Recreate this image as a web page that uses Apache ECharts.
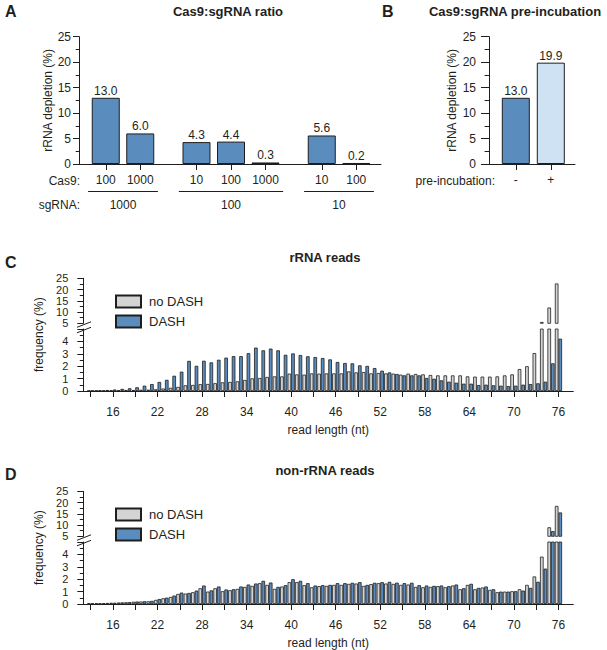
<!DOCTYPE html>
<html><head><meta charset="utf-8">
<script src="https://cdn.jsdelivr.net/npm/echarts@6/dist/echarts.min.js"></script>
<style>html,body{margin:0;padding:0;background:#fff}#c{width:607px;height:650px}</style>
</head><body><div id="c"></div>
<script>
// ---------- DATA ----------
// Panel A: Cas9:sgRNA ratio
const aCas9Group1 = ['100', '1000'];
const aValuesGroup1 = [13.0, 6.0];
const aCas9Group2 = ['10', '100', '1000'];
const aValuesGroup2 = [4.3, 4.4, 0.3];
const aCas9Group3 = ['10', '100'];
const aValuesGroup3 = [5.6, 0.2];
const aSgRNA = ['1000', '100', '10'];
// Panel B: pre-incubation
const bCategories = ['-', '+'];
const bValues = [13.0, 19.9];
// Panels C / D: read length distributions
const readLengths = [13,14,15,16,17,18,19,20,21,22,23,24,25,26,27,28,29,30,31,32,33,34,35,36,37,38,39,40,41,42,43,44,45,46,47,48,49,50,51,52,53,54,55,56,57,58,59,60,61,62,63,64,65,66,67,68,69,70,71,72,73,74,75,76];
const axisLengths = [12].concat(readLengths, [77, 78]);
const xTickLengths = [13,16,19,22,25,28,31,34,37,40,43,46,49,52,55,58,61,64,67,70,73,76];
const xLabelLengths = [16,22,28,34,40,46,52,58,64,70,76];
const rrnaNoDash = [0.03,0.04,0.05,0.06,0.07,0.08,0.08,0.1,0.11,0.14,0.2,0.26,0.33,0.46,0.49,0.55,0.57,0.63,0.7,0.73,0.78,0.89,1.02,1.05,1.13,1.18,1.18,1.4,1.34,1.32,1.42,1.4,1.42,1.42,1.42,1.58,1.5,1.53,1.42,1.45,1.42,1.4,1.32,1.4,1.37,1.34,1.29,1.26,1.26,1.26,1.26,1.18,1.16,1.16,1.16,1.18,1.26,1.34,1.77,2.0,3.06,5.6,12.0,22.7];
const rrnaDash = [0.04,0.06,0.08,0.12,0.17,0.22,0.3,0.43,0.56,0.73,0.9,1.23,1.56,2.43,2.03,2.44,2.31,2.52,2.69,2.81,2.81,3.05,3.5,3.28,3.42,3.28,2.92,3.03,2.9,2.8,2.74,2.66,2.55,2.34,2.26,2.23,2.07,2.02,1.85,1.64,1.5,1.37,1.26,1.26,1.26,1.05,0.99,0.86,0.75,0.67,0.59,0.59,0.48,0.51,0.46,0.43,0.4,0.43,0.51,0.56,0.62,0.75,2.23,4.22];
const nonrrnaNoDash = [0.05,0.06,0.07,0.1,0.12,0.14,0.18,0.2,0.22,0.33,0.46,0.57,0.81,0.84,0.95,1.27,1.0,1.27,1.03,1.11,1.22,1.38,1.46,1.68,1.54,1.22,1.41,1.76,1.76,1.52,1.35,1.44,1.46,1.54,1.54,1.62,1.65,1.46,1.6,1.68,1.65,1.62,1.54,1.57,1.38,1.35,1.38,1.44,1.35,1.49,1.19,1.54,1.19,1.33,1.14,0.95,1.0,1.03,1.19,1.54,2.22,3.82,9.0,18.5];
const nonrrnaDash = [0.05,0.06,0.08,0.1,0.13,0.15,0.2,0.22,0.25,0.4,0.51,0.68,0.92,0.89,1.08,1.49,1.1,1.41,1.17,1.19,1.41,1.57,1.65,1.87,1.73,1.38,1.52,2.0,1.87,1.68,1.49,1.52,1.54,1.68,1.68,1.71,1.76,1.54,1.71,1.76,1.79,1.72,1.68,1.71,1.52,1.49,1.46,1.49,1.44,1.57,1.27,1.63,1.3,1.41,1.19,1.0,1.0,1.03,1.08,1.3,1.79,2.85,7.3,15.6];

// ---------- STYLE ----------
const FONT = '"Liberation Sans", Arial, Helvetica, sans-serif';
const TXT = '#231f20';
const EDGE = '#1e1e1e';
const BLUE = '#5a8dbe';
const LIGHT_BLUE = '#cfe2f4';
const GRAY = '#d4d4d4';

const chart = echarts.init(document.getElementById('c'), null, {renderer: 'svg', width: 607, height: 650});

function grid(left, top, width, height) {
  return {left, top, width, height, containLabel: false, outerBoundsMode: 'none'};
}
const lineStyle = {color: EDGE, width: 1};
const txt = (size, extra) => Object.assign({color: TXT, fontFamily: FONT, fontSize: size}, extra || {});

const grids = [
  grid(79, 36.7, 302, 127.3),     // 0 frame A
  grid(88.5, 36.7, 69, 127.3),    // 1 A group 1
  grid(179.25, 36.7, 103.5, 127.3),// 2 A group 2
  grid(304.5, 36.7, 69, 127.3),   // 3 A group 3
  grid(489, 36.7, 86, 127.3),     // 4 frame B
  grid(498.3, 36.7, 70, 127.3),   // 5 B bars
  grid(83.3, 278.3, 490, 45),     // 6 C upper
  grid(83.3, 329, 490, 62),       // 7 C lower
  grid(83.3, 278.3, 490, 112.7),  // 8 C name frame
  grid(83.3, 491.3, 490, 45),     // 9 D upper
  grid(83.3, 542, 490, 62),       // 10 D lower
  grid(83.3, 491.3, 490, 112.7)   // 11 D name frame
];

function frameX(gi) {
  return {type: 'value', gridIndex: gi, min: 0, max: 1, axisLine: {show: true, lineStyle},
    axisTick: {show: false}, axisLabel: {show: false}, splitLine: {show: false}};
}
function groupX(gi, cats) {
  return {type: 'category', gridIndex: gi, data: cats, axisLine: {show: false},
    axisTick: {show: true, alignWithLabel: true, length: 6, lineStyle, interval: 0},
    axisLabel: txt(12, {margin: 10, interval: 0, hideOverlap: false}), splitLine: {show: false}};
}
function sgX(gi, label) {
  return {type: 'category', gridIndex: gi, data: [label], position: 'bottom', offset: 27,
    axisLine: {show: true, lineStyle}, axisTick: {show: false},
    axisLabel: txt(12, {margin: 8, interval: 0}), splitLine: {show: false}};
}
const tickSet = new Set(xTickLengths.map(String));
const labelSet = new Set(xLabelLengths.map(String));
function lenX(gi, visible) {
  return {type: 'category', gridIndex: gi, data: axisLengths.map(String), boundaryGap: false, show: visible,
    axisLine: {show: true, lineStyle},
    axisTick: {show: true, length: 6, lineStyle, interval: (i, v) => tickSet.has(String(v))},
    axisLabel: txt(12, {margin: 15, interval: (i, v) => labelSet.has(String(v))}),
    splitLine: {show: false},
    name: 'read length (nt)', nameLocation: 'middle', nameGap: 33, nameTextStyle: txt(12), nameMoveOverlap: false};
}
function hiddenX(gi) {
  return {type: 'category', gridIndex: gi, data: axisLengths.map(String), boundaryGap: false, show: false};
}
const xAxes = [
  frameX(0), groupX(1, aCas9Group1), sgX(1, aSgRNA[0]), groupX(2, aCas9Group2), sgX(2, aSgRNA[1]),
  groupX(3, aCas9Group3), sgX(3, aSgRNA[2]),
  frameX(4), groupX(5, bCategories),
  hiddenX(6), lenX(7, true), {type: 'value', gridIndex: 8, show: false},
  hiddenX(9), lenX(10, true), {type: 'value', gridIndex: 11, show: false}
];

function depletionY(gi, gap, tickLen, margin) {
  return {type: 'value', gridIndex: gi, min: 0, max: 25, interval: 5,
    axisLine: {show: true, lineStyle}, splitLine: {show: false},
    axisTick: {show: true, length: tickLen, lineStyle},
    minorTick: {show: true, splitNumber: 2, length: tickLen * 0.55, lineStyle},
    axisLabel: txt(12, {margin}),
    name: 'rRNA depletion (%)', nameLocation: 'middle', nameGap: gap, nameTextStyle: txt(12), nameMoveOverlap: false};
}
function hiddenY(gi, min, max) { return {type: 'value', gridIndex: gi, min, max, show: false, splitLine: {show: false}}; }
function freqUpperY(gi) {
  return {type: 'value', gridIndex: gi, min: 5, max: 25, interval: 5,
    axisLine: {show: true, lineStyle}, splitLine: {show: false},
    axisTick: {show: true, length: 6, lineStyle},
    minorTick: {show: true, splitNumber: 2, length: 3.5, lineStyle},
    axisLabel: txt(11, {margin: 15})};
}
function freqLowerY(gi) {
  return {type: 'value', gridIndex: gi, min: 0, max: 5, interval: 1,
    axisLine: {show: true, lineStyle}, splitLine: {show: false},
    axisTick: {show: true, length: 6, lineStyle},
    minorTick: {show: true, splitNumber: 2, length: 3.5, lineStyle},
    axisLabel: txt(11, {margin: 15, formatter: v => (v >= 5 ? '' : String(v))})};
}
function nameY(gi) {
  return {type: 'value', gridIndex: gi, min: 0, max: 1, axisLine: {show: false}, axisTick: {show: false},
    axisLabel: {show: false}, splitLine: {show: false},
    name: 'frequency (%)', nameLocation: 'middle', nameGap: 38, nameTextStyle: txt(12), nameMoveOverlap: false};
}
const yAxes = [
  depletionY(0, 25, 6, 8), hiddenY(1, 0, 25), hiddenY(2, 0, 25), hiddenY(3, 0, 25),
  depletionY(4, 31, 8, 13), hiddenY(5, 0, 25),
  freqUpperY(6), freqLowerY(7), nameY(8),
  freqUpperY(9), freqLowerY(10), nameY(11)
];

function aSeries(xi, yi, values) {
  return {type: 'bar', xAxisIndex: xi, yAxisIndex: yi, data: values, barWidth: 28,
    itemStyle: {color: BLUE, borderColor: EDGE, borderWidth: 1},
    label: {show: true, position: 'top', distance: 1, formatter: p => p.value.toFixed(1), color: TXT, fontFamily: FONT, fontSize: 12},
    silent: true};
}
function pad(values) { return [null].concat(values, [null, null]); }
function lenSeries(name, values, xi, yi, color) {
  return {type: 'bar', name, xAxisIndex: xi, yAxisIndex: yi, data: pad(values), barWidth: 3.6, barGap: '0%',
    clip: true, itemStyle: {color, borderColor: EDGE, borderWidth: 0.8}, silent: true};
}
const bColors = [BLUE, LIGHT_BLUE];
const series = [
  aSeries(1, 1, aValuesGroup1), aSeries(3, 2, aValuesGroup2), aSeries(5, 3, aValuesGroup3),
  aSeries(8, 5, bValues.map((v, i) => ({value: v, itemStyle: {color: bColors[i]}}))),
  lenSeries('no DASH', rrnaNoDash, 9, 6, GRAY), lenSeries('DASH', rrnaDash, 9, 6, BLUE),
  lenSeries('no DASH', rrnaNoDash, 10, 7, GRAY), lenSeries('DASH', rrnaDash, 10, 7, BLUE),
  lenSeries('no DASH', nonrrnaNoDash, 12, 9, GRAY), lenSeries('DASH', nonrrnaDash, 12, 9, BLUE),
  lenSeries('no DASH', nonrrnaNoDash, 13, 10, GRAY), lenSeries('DASH', nonrrnaDash, 13, 10, BLUE)
];

function legend(top) {
  return {left: 110, top, orient: 'vertical', itemWidth: 25, itemHeight: 12, itemGap: 6, icon: 'rect',
    selectedMode: false, data: ['no DASH', 'DASH'], textStyle: txt(13, {padding: [0, 0, 0, 3]})};
}

function gtext(x, y, text, size, bold, align) {
  return {type: 'text', x, y, silent: true,
    style: {text, fill: TXT, font: (bold ? 'bold ' : '') + size + 'px ' + FONT, textAlign: align || 'left', textVerticalAlign: 'middle'}};
}
function breakMarks(y0) {
  return [
    {type: 'line', silent: true, shape: {x1: 77, y1: y0 + 4, x2: 91, y2: y0 - 1.5}, style: {stroke: EDGE, lineWidth: 1}},
    {type: 'line', silent: true, shape: {x1: 77, y1: y0 + 9.5, x2: 91, y2: y0 + 4}, style: {stroke: EDGE, lineWidth: 1}}
  ];
}
const graphics = [
  gtext(5, 11, 'A', 16, true), gtext(228, 11, 'Cas9:sgRNA ratio', 13, true, 'center'),
  gtext(382, 11, 'B', 16, true), gtext(515, 11, 'Cas9:sgRNA pre-incubation', 13, true, 'center'),
  gtext(80, 181, 'Cas9:', 12, false, 'right'), gtext(80, 205, 'sgRNA:', 12, false, 'right'),
  gtext(495, 181, 'pre-incubation:', 12, false, 'right'),
  gtext(5, 262, 'C', 16, true), gtext(325, 257, 'rRNA reads', 13, true, 'center'),
  gtext(5, 474, 'D', 16, true), gtext(325, 470, 'non-rRNA reads', 13, true, 'center')
].concat(breakMarks(323.3), breakMarks(536.3));

chart.setOption({
  animation: false,
  backgroundColor: '#ffffff',
  textStyle: {fontFamily: FONT, color: TXT},
  grid: grids,
  xAxis: xAxes,
  yAxis: yAxes,
  legend: [legend(289.5), legend(502.5)],
  series,
  graphic: graphics
});
</script></body></html>
